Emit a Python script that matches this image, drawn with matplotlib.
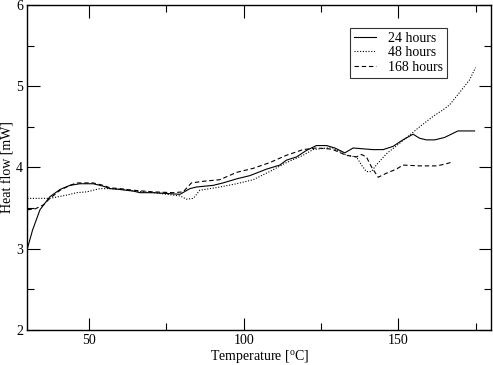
import matplotlib
matplotlib.use("Agg")
import matplotlib.pyplot as plt
from matplotlib.ticker import MultipleLocator

plt.rcParams['font.family'] = ['Liberation Serif', 'DejaVu Serif']
plt.rcParams['mathtext.fontset'] = 'custom'
plt.rcParams['mathtext.rm'] = 'Liberation Serif'

# 24 hours (solid)
t24 = [30, 31.7, 34.1, 37.3, 40.6, 43.8, 47.0, 51.3, 54.6, 56.7, 60.0, 64.3, 66.4, 70.7,
       75.1, 79.4, 82.6, 84.7, 90.1, 93.3, 97.7, 102.0, 107.4, 111.7, 113.8, 117.1, 120.3,
       123.5, 126.8, 129.5, 132.7, 135.4, 138.6, 141.8, 145.1, 148.3, 151.5, 154.8, 156.9,
       159.1, 161.8, 165.0, 167.7, 169.3, 174.7]
h24 = [3.00, 3.23, 3.48, 3.64, 3.73, 3.78, 3.80, 3.80, 3.77, 3.74, 3.73, 3.71, 3.69, 3.69,
       3.68, 3.67, 3.74, 3.76, 3.78, 3.81, 3.86, 3.90, 3.98, 4.03, 4.09, 4.13, 4.21,
       4.27, 4.27, 4.24, 4.18, 4.24, 4.23, 4.22, 4.22, 4.26, 4.34, 4.41, 4.36,
       4.34, 4.34, 4.37, 4.42, 4.45, 4.45]

# 48 hours (dotted)
t48 = [30, 37.3, 42.7, 46.0, 49.2, 53.5, 57.0, 60.0, 64.3, 70.7, 75.1, 79.4, 81.5, 83.7,
       85.8, 92.3, 97.7, 103.1, 108.4, 113.8, 119.2, 122.4, 126.8, 128.9, 133.2, 136.5,
       138.1, 139.7, 141.3, 142.9, 146.2, 150.5, 153.7, 156.9, 161.3, 164.5, 166.6, 170.4,
       173.1, 175.0]
h48 = [3.62, 3.62, 3.66, 3.69, 3.70, 3.74, 3.74, 3.73, 3.71, 3.69, 3.67, 3.65, 3.61, 3.62,
       3.72, 3.76, 3.80, 3.85, 3.95, 4.06, 4.15, 4.22, 4.24, 4.24, 4.15, 4.13,
       4.03, 3.95, 3.95, 4.03, 4.17, 4.30, 4.40, 4.50, 4.63, 4.71, 4.77, 4.95,
       5.08, 5.23]

# 168 hours (dashed)
t168 = [30, 32.5, 35.2, 37.3, 40.6, 43.8, 46.0, 51.3, 54.6, 56.7, 60.0, 64.3, 70.7, 77.2,
        80.4, 83.1, 86.9, 92.3, 97.7, 103.1, 108.4, 113.8, 119.2, 123.5, 127.3, 128.9,
        133.2, 136.5, 138.1, 139.7, 141.3, 143.5, 146.2, 149.4, 151.5, 156.9, 162.3,
        165.0, 167.7]
h168 = [3.48, 3.49, 3.54, 3.62, 3.72, 3.78, 3.81, 3.81, 3.78, 3.75, 3.74, 3.72, 3.70, 3.69,
        3.70, 3.81, 3.83, 3.85, 3.94, 3.99, 4.06, 4.15, 4.22, 4.24, 4.23, 4.22,
        4.15, 4.13, 4.16, 4.13, 4.01, 3.88, 3.93, 3.98, 4.03, 4.02, 4.02,
        4.04, 4.07]

fig = plt.figure(figsize=(4.93, 3.65), dpi=100)
ax = fig.add_axes([0.0554, 0.0959, 0.9405, 0.8904])

ax.plot(t24, h24, color='black', lw=0.8, label='24 hours')
ax.plot(t48, h48, color='black', lw=0.8, linestyle=(0, (1, 1.5)), label='48 hours')
ax.plot(t168, h168, color='black', lw=0.8, linestyle=(0, (4, 2.5)), label='168 hours')

ax.set_xlim(30, 180)
ax.set_ylim(2, 6)
ax.xaxis.set_major_locator(MultipleLocator(50))
ax.xaxis.set_minor_locator(MultipleLocator(25))
ax.yaxis.set_major_locator(MultipleLocator(1))
ax.yaxis.set_minor_locator(MultipleLocator(0.5))
ax.tick_params(which='both', direction='in', top=True, right=True, labelsize=10, width=0.8)
ax.tick_params(which='major', length=9, pad=3)
ax.tick_params(which='minor', length=5)
for s in ax.spines.values():
    s.set_linewidth(1.0)

ax.set_xlabel(r'Temperature [$^{\rm o}$C]', fontsize=10, labelpad=1)
ax.set_ylabel('Heat flow [mW]', fontsize=10, labelpad=1)

leg = ax.legend(loc='upper left', bbox_to_anchor=(0.696, 0.93), fontsize=10, frameon=True,
                fancybox=False, edgecolor='black', handlelength=1.6, handletextpad=0.8,
                borderpad=0.3, labelspacing=0.1, borderaxespad=0)
leg.get_frame().set_linewidth(0.8)

fig.savefig('out.png', dpi=100)
